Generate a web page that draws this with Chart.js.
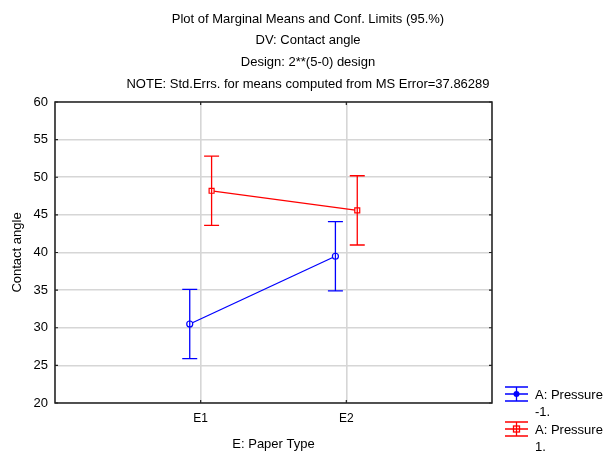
<!DOCTYPE html>
<html>
<head>
<meta charset="utf-8">
<script src="https://cdn.jsdelivr.net/npm/chart.js@4.4.1/dist/chart.umd.min.js"></script>
<style>
  html, body { margin: 0; padding: 0; background: #fff; }
  #wrap { width: 609px; height: 455px; }
</style>
</head>
<body>
<div id="wrap"><canvas id="chart"></canvas></div>
<script>
// data
const categories = ['E1', 'E2'];
const seriesNames = ['A: Pressure\n-1.', 'A: Pressure\n1.'];
const pressureLow = [30.5, 39.5];
const pressureHigh = [48.2, 45.6];
const ciLow = [4.6, 4.6];
const ciHigh = [4.6, 4.6];
const titleLines = [
  'Plot of Marginal Means and Conf. Limits (95.%)',
  'DV: Contact angle',
  'Design: 2**(5-0) design',
  'NOTE: Std.Errs. for means computed from MS Error=37.86289'
];

const FONT = '"Liberation Sans", Arial, sans-serif';
const BLUE = '#0000ff';
const RED = '#ff0000';

function toPoints(values, shift) {
  return values.map((v, i) => ({ x: i + 1 + shift, y: v }));
}

// title, frame, error bars, legend
const extras = {
  id: 'extras',
  beforeDraw(chart) {
    const ctx = chart.ctx;
    ctx.save();
    ctx.fillStyle = '#000';
    ctx.font = '13px ' + FONT;
    ctx.textAlign = 'center';
    ctx.textBaseline = 'middle';
    titleLines.forEach((t, i) => ctx.fillText(t, 308, 19 + i * 21.7));
    ctx.restore();
  },
  afterDatasetsDraw(chart) {
    const ctx = chart.ctx;
    const ys = chart.scales.y;
    const xs = chart.scales.x;
    const a = chart.chartArea;
    ctx.save();
    // error bars
    chart.data.datasets.forEach((ds, di) => {
      const meta = chart.getDatasetMeta(di);
      ctx.strokeStyle = ds.borderColor;
      ctx.lineWidth = 1.3;
      meta.data.forEach((pt, i) => {
        const v = ds.data[i].y;
        const e = ds.ci[i];
        const top = ys.getPixelForValue(v + e);
        const bot = ys.getPixelForValue(v - e);
        ctx.beginPath();
        ctx.moveTo(pt.x, top); ctx.lineTo(pt.x, bot);
        ctx.moveTo(pt.x - 7.5, top); ctx.lineTo(pt.x + 7.5, top);
        ctx.moveTo(pt.x - 7.5, bot); ctx.lineTo(pt.x + 7.5, bot);
        ctx.stroke();
      });
    });
    // frame
    ctx.strokeStyle = '#222';
    ctx.lineWidth = 1.5;
    ctx.strokeRect(a.left, a.top, a.right - a.left, a.bottom - a.top);
    // inner tick marks
    ctx.lineWidth = 1.2;
    ctx.beginPath();
    ys.ticks.forEach(t => {
      const y = ys.getPixelForValue(t.value);
      ctx.moveTo(a.left, y); ctx.lineTo(a.left + 3, y);
      ctx.moveTo(a.right, y); ctx.lineTo(a.right - 3, y);
    });
    categories.forEach((c, i) => {
      const x = xs.getPixelForValue(i + 1);
      ctx.moveTo(x, a.top); ctx.lineTo(x, a.top + 3);
      ctx.moveTo(x, a.bottom); ctx.lineTo(x, a.bottom - 3);
    });
    ctx.stroke();

    // legend
    const lx = 505, lw = 23;
    const rows = [394, 429];
    chart.data.datasets.forEach((ds, di) => {
      const cy = rows[di];
      const cx = lx + lw / 2;
      ctx.strokeStyle = ds.borderColor;
      ctx.fillStyle = ds.borderColor;
      ctx.lineWidth = 1.3;
      ctx.beginPath();
      [cy - 7, cy, cy + 7].forEach(y => { ctx.moveTo(lx, y); ctx.lineTo(lx + lw, y); });
      ctx.moveTo(cx, cy - 7); ctx.lineTo(cx, cy + 7);
      ctx.stroke();
      ctx.beginPath();
      if (ds.pointStyle === 'rect') {
        ctx.strokeRect(cx - 3, cy - 3, 6, 6);
      } else {
        ctx.arc(cx, cy, 3, 0, Math.PI * 2);
        ctx.fill();
      }
      ctx.fillStyle = '#000';
      ctx.font = '13px ' + FONT;
      ctx.textAlign = 'left';
      ctx.textBaseline = 'middle';
      ds.label.split('\n').forEach((t, k) => ctx.fillText(t, 535, cy + 1 + k * 17));
    });
    ctx.restore();
  }
};

new Chart(document.getElementById('chart'), {
  type: 'line',
  data: {
    datasets: [
      {
        label: seriesNames[0],
        data: toPoints(pressureLow, -0.075),
        ci: ciLow,
        borderColor: BLUE,
        backgroundColor: '#fff',
        borderWidth: 1.3,
        pointStyle: 'circle',
        pointRadius: 3,
        pointBorderWidth: 1.2,
        tension: 0
      },
      {
        label: seriesNames[1],
        data: toPoints(pressureHigh, 0.075),
        ci: ciHigh,
        borderColor: RED,
        backgroundColor: '#fff',
        borderWidth: 1.3,
        pointStyle: 'rect',
        pointRadius: 3.5,
        pointBorderWidth: 1.2,
        tension: 0
      }
    ]
  },
  options: {
    responsive: true,
    maintainAspectRatio: false,
    animation: false,
    layout: { padding: { top: 102, right: 117, bottom: 0, left: 0 } },
    plugins: {
      legend: { display: false },
      title: { display: false },
      tooltip: { enabled: false }
    },
    scales: {
      x: {
        type: 'linear',
        min: 0,
        max: categories.length + 1,
        afterFit(scale) { scale.height = 52; },
        afterBuildTicks(scale) {
          scale.ticks = [0, 1, 2, 3].map(v => ({ value: v }));
        },
        ticks: {
          autoSkip: false,
          padding: 8,
          color: '#000',
          font: { family: FONT, size: 12 },
          callback: (v) => categories[v - 1] || ''
        },
        grid: { color: '#d6d6d6', lineWidth: 1.6, drawTicks: false },
        border: { display: false },
        title: {
          display: true,
          text: 'E: Paper Type',
          color: '#000',
          font: { family: FONT, size: 13 },
          padding: { top: 4, bottom: 3 }
        }
      },
      y: {
        min: 20,
        max: 60,
        afterFit(scale) { scale.width = 55; },
        ticks: {
          stepSize: 5,
          padding: 7,
          color: '#000',
          font: { family: FONT, size: 13 }
        },
        grid: { color: '#d6d6d6', lineWidth: 1.6, drawTicks: false },
        border: { display: false },
        title: {
          display: true,
          text: 'Contact angle',
          color: '#000',
          font: { family: FONT, size: 13 },
          padding: { top: 10, bottom: 0 }
        }
      }
    }
  },
  plugins: [extras]
});
</script>
</body>
</html>
